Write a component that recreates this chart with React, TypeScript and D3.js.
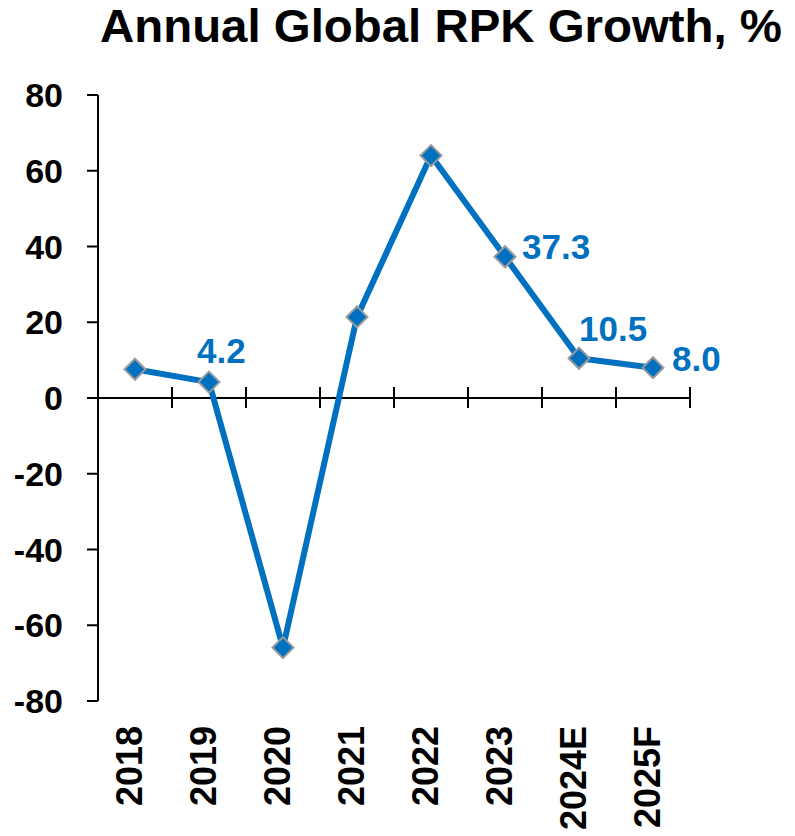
import React from "react";
import * as d3 from "d3";

const categories = ["2018", "2019", "2020", "2021", "2022", "2023", "2024E", "2025F"];
const growth = [7.6, 4.2, -65.9, 21.4, 64.0, 37.3, 10.5, 8.0];
const yTicks = [-80, -60, -40, -20, 0, 20, 40, 60, 80];
const labelCategories = ["2019", "2023", "2024E", "2025F"];
const labelTexts = ["4.2", "37.3", "10.5", "8.0"];
const title = "Annual Global RPK Growth, %";

const BLUE = "#0070C0";
const FONT = "'Liberation Sans', Arial, sans-serif";

// label placement relative to marker (layout only)
const labelOffset: Record<string, [number, number]> = {
  "2019": [-12, -19],
  "2023": [17, 2],
  "2024E": [0, -17],
  "2025F": [19, 3],
};

export default function App() {
  const W = 795;
  const H = 836;
  const x = d3.scaleBand<string>().domain(categories).range([98, 690]);
  const y = d3.scaleLinear().domain([-80, 80]).range([701, 95]);
  const cx = (c: string) => (x(c) as number) + x.bandwidth() / 2;

  const pts = categories.map((c, i) => [cx(c), y(growth[i])] as [number, number]);
  const line = d3.line()(pts) as string;
  const y0 = y(0);
  const bounds = categories.map((c) => x(c) as number).concat([x.range()[1]]);
  const r = 10.5;

  return (
    <svg
      width={W}
      height={H}
      style={{ position: "absolute", left: 0, top: 0, background: "#fff" }}
      fontFamily={FONT}
      fontWeight="bold"
    >
      <rect x={0} y={0} width={W} height={H} fill="#fff" />
      <text x={100} y={41.5} fontSize={46.5} fill="#000" textLength={682} lengthAdjust="spacingAndGlyphs">
        {title}
      </text>

      {/* y axis */}
      <line x1={98} x2={98} y1={y(80)} y2={y(-80)} stroke="#000" strokeWidth={2} />
      {yTicks.map((t) => (
        <g key={t}>
          <line x1={87} x2={98} y1={y(t)} y2={y(t)} stroke="#000" strokeWidth={2} />
          <text x={63} y={y(t) + 12} fontSize={34} textAnchor="end" fill="#000">
            {t}
          </text>
        </g>
      ))}

      {/* x axis at zero */}
      <line x1={x.range()[0]} x2={x.range()[1]} y1={y0} y2={y0} stroke="#000" strokeWidth={2} />
      {bounds.map((b, i) => (
        <line key={i} x1={b} x2={b} y1={y0 - 11} y2={y0 + 10} stroke="#000" strokeWidth={2} />
      ))}
      {categories.map((c) => (
        <text
          key={c}
          transform={`translate(${cx(c) + 7},726) rotate(-90)`}
          fontSize={36}
          textAnchor="end"
          fill="#000"
        >
          {c}
        </text>
      ))}

      {/* series */}
      <path d={line} fill="none" stroke={BLUE} strokeWidth={6} strokeLinejoin="round" />
      {pts.map(([px, py], i) => (
        <path
          key={i}
          d={`M${px},${py - r}L${px + r},${py}L${px},${py + r}L${px - r},${py}Z`}
          fill={BLUE}
          stroke="#9a9a9a"
          strokeWidth={2}
        />
      ))}

      {/* data labels */}
      {labelCategories.map((c, i) => {
        const idx = categories.indexOf(c);
        const [dx, dy] = labelOffset[c];
        return (
          <text key={c} x={cx(c) + dx} y={y(growth[idx]) + dy} fontSize={35} fill={BLUE}>
            {labelTexts[i]}
          </text>
        );
      })}
    </svg>
  );
}
